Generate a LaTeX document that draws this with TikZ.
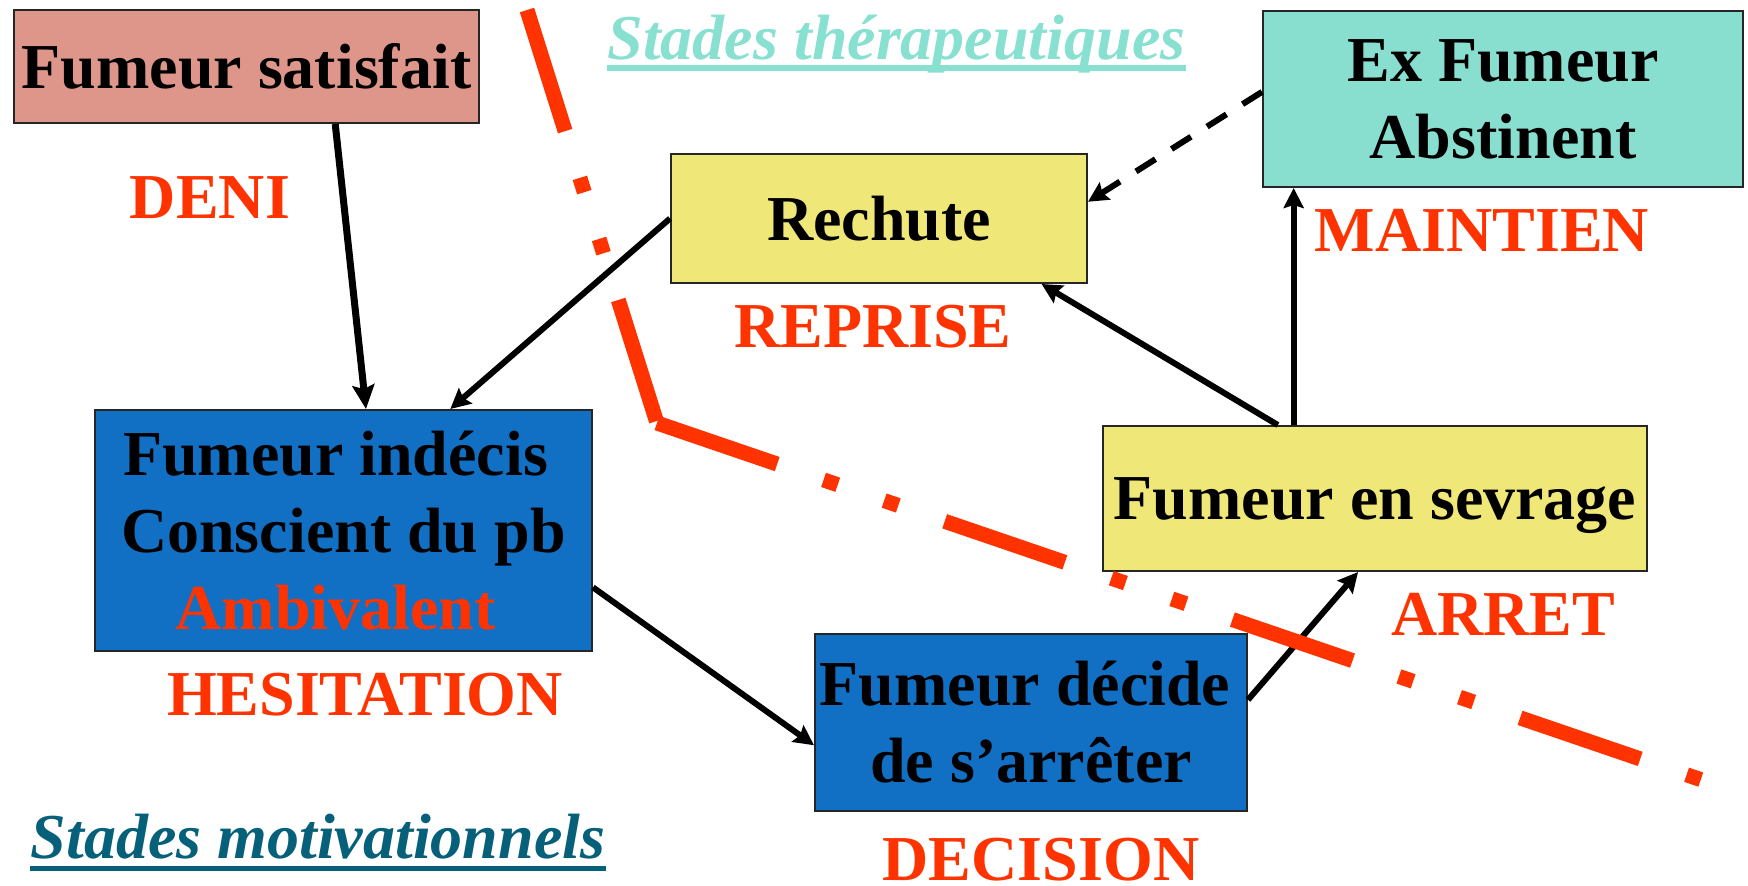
\documentclass[tikz,border=0pt]{standalone}
\usepackage{fontspec}
\setmainfont{Liberation Serif}
\usetikzlibrary{arrows.meta,calc}
\definecolor{redlab}{HTML}{FF3300}
\definecolor{satfill}{HTML}{DE968B}
\definecolor{exfill}{HTML}{88DFD0}
\definecolor{yelfill}{HTML}{EFE878}
\definecolor{bluefill}{HTML}{1170C4}
\definecolor{thercol}{HTML}{88E0D0}
\definecolor{motivcol}{HTML}{06607A}
\begin{document}
\begin{tikzpicture}[x=0.5pt,y=-0.5pt,
  bigfont/.style={font=\bfseries\fontsize{32}{38.5}\selectfont},
  box/.style={draw=black!85, line width=1pt, inner sep=0pt, align=center, bigfont},
  lab/.style={anchor=base, inner sep=0pt, text=redlab, bigfont},
  ttl/.style={anchor=base, inner sep=0pt, font=\bfseries\itshape\fontsize{32}{38.5}\selectfont},
  conn/.style={line width=3pt, -{Stealth[length=10pt,width=10pt,inset=1.5pt]}},
  thickconn/.style={line width=3.5pt, -{Stealth[length=12pt,width=11pt,inset=2pt]}},
  redline/.style={draw=redlab, line width=7.5pt, line cap=butt,
    dash pattern=on 63.5pt off 24.5pt on 7.5pt off 24.5pt on 7.5pt off 24.5pt}]
\useasboundingbox (0,0) rectangle (1748,885);

% boxes
\node[box, fill=satfill, minimum width=232.5pt, minimum height=56.5pt] (sat) at (246.5,66.5) {Fumeur satisfait};
\node[box, fill=yelfill, minimum width=208pt, minimum height=64.5pt] (rech) at (879,218.5) {Rechute};
\node[box, fill=exfill, minimum width=240pt, minimum height=88pt] (ex) at (1503,99) {Ex Fumeur\\Abstinent};
\node[box, fill=bluefill, minimum width=248.5pt, minimum height=120.5pt] (ind) at (343.5,530.5) {Fumeur indécis\kern8pt\\Conscient du pb\\\textcolor{redlab}{Ambivalent}\kern8pt};
\node[box, fill=yelfill, minimum width=272pt, minimum height=72.5pt, text depth=0pt] (sev) at (1375,498.5) {Fumeur en sevrage};
\node[box, fill=bluefill, minimum width=216pt, minimum height=88.5pt] (dec) at (1031,722.5) {Fumeur décide\kern6pt\\de s’arrêter};

% red labels
\node[lab] (deni) at (210,218) {DENI};
\node[lab] (reprise) at (873,347) {REPRISE};
\node[lab] (maintien) at (1482,251) {MAINTIEN};
\node[lab] (hesit) at (365,715) {HESITATION};
\node[lab] (arret) at (1503,635) {ARRET};
\node[lab] (decision) at (1041,880) {DECISION};

% titles
\node[ttl, text=thercol] (ther) at (896.5,59) {Stades thérapeutiques};
\draw[thercol, line width=3pt] ($(ther.base west)+(0,9)$) -- ($(ther.base east)+(0,9)$);
\node[ttl, text=motivcol] (motiv) at (318,858) {Stades motivationnels};
\draw[motivcol, line width=2.5pt] ($(motiv.base west)+(0,10.5)$) -- ($(motiv.base east)+(0,10.5)$);

% connectors
\draw[thickconn] ($(sat.south west)!0.69!(sat.south east)$) -- ($(ind.north west)!0.545!(ind.north east)$);
\draw[conn] (rech.west) -- ($(ind.north west)!0.714!(ind.north east)$);
\draw[conn] ($(ind.north east)!0.734!(ind.south east)$) -- ($(dec.north west)!0.627!(dec.south west)$);
\draw[conn] ($(dec.north east)!0.373!(dec.south east)$) -- ($(sev.south west)!0.469!(sev.south east)$);
\draw[conn] ($(sev.north west)!0.322!(sev.north east)$) -- ($(rech.south west)!0.889!(rech.south east)$);
\coordinate (sevtop) at ($(sev.north west)!0.351!(sev.north east)$);
\draw[conn] (sevtop) -- (sevtop |- ex.south);
\draw[conn, dash pattern=on 11.5pt off 9.5pt] ($(ex.north west)!0.46!(ex.south west)$) -- ($(rech.north east)!0.372!(rech.south east)$);

% red dash-dot separator
\coordinate (r1) at (527,10);
\coordinate (r2) at (657,423);
\coordinate (r3) at (1702,780);
\draw[redline] (r1) -- (r2);
\draw[redline] (r2) -- (r3);
\end{tikzpicture}
\end{document}
